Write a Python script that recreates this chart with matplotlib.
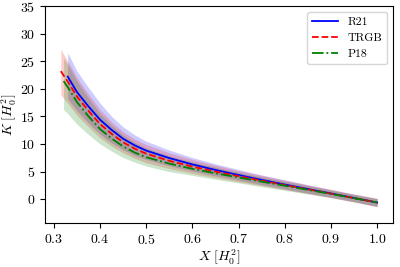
import numpy as np
import matplotlib
matplotlib.use("Agg")
import matplotlib.pyplot as plt

plt.rcParams["font.family"] = "serif"
plt.rcParams["font.serif"] = ["cmr10", "DejaVu Serif"]
plt.rcParams["mathtext.fontset"] = "cm"
plt.rcParams["axes.formatter.use_mathtext"] = True
plt.rcParams["axes.unicode_minus"] = False
plt.rcParams["font.size"] = 10

# R21
x_r21 = [0.33, 0.35, 0.375, 0.40, 0.425, 0.45, 0.475, 0.50, 0.55, 0.60, 0.65,
         0.70, 0.75, 0.80, 0.85, 0.90, 0.95, 1.00]
k_r21 = [22.2, 19.4, 16.8, 14.4, 12.55, 10.95, 9.75, 8.8, 7.45, 6.3, 5.3,
         4.38, 3.5, 2.66, 1.84, 1.04, 0.22, -0.6]
lo_r21 = [18.2, 16.0, 13.8, 11.8, 10.2, 8.95, 7.95, 7.2, 6.05, 5.1, 4.25,
          3.45, 2.65, 1.85, 1.1, 0.35, -0.45, -1.3]
hi_r21 = [26.5, 23.2, 20.2, 17.4, 15.0, 13.1, 11.65, 10.5, 8.9, 7.55, 6.4,
          5.38, 4.4, 3.51, 2.62, 1.76, 0.9, 0.1]

# TRGB
x_trgb = [0.315, 0.33, 0.35, 0.375, 0.40, 0.425, 0.45, 0.475, 0.50, 0.55, 0.60,
          0.65, 0.70, 0.75, 0.80, 0.85, 0.90, 0.95, 1.00]
k_trgb = [23.2, 21.3, 18.6, 16.0, 13.6, 11.85, 10.3, 9.15, 8.25, 6.95, 5.9,
          5.0, 4.16, 3.35, 2.56, 1.78, 1.01, 0.2, -0.6]
lo_trgb = [18.9, 17.4, 15.2, 13.1, 11.1, 9.6, 8.4, 7.4, 6.6, 5.55, 4.65,
           3.9, 3.15, 2.45, 1.75, 1.0, 0.28, -0.5, -1.4]
hi_trgb = [27.1, 25.0, 22.0, 19.0, 16.2, 14.0, 12.2, 10.9, 9.9, 8.4, 7.2,
           6.15, 5.2, 4.3, 3.45, 2.6, 1.78, 0.95, 0.2]

# P18
x_p18 = [0.321, 0.33, 0.35, 0.375, 0.40, 0.425, 0.45, 0.475, 0.50, 0.55, 0.60,
         0.65, 0.70, 0.75, 0.80, 0.85, 0.90, 0.95, 1.00]
k_p18 = [21.4, 20.3, 17.6, 15.0, 12.7, 11.0, 9.55, 8.45, 7.6, 6.45, 5.5,
         4.7, 3.93, 3.18, 2.44, 1.7, 0.96, 0.18, -0.6]
lo_p18 = [16.2, 15.5, 13.6, 11.7, 10.0, 8.7, 7.55, 6.7, 6.0, 5.0, 4.3,
          3.6, 2.95, 2.25, 1.6, 0.95, 0.28, -0.5, -1.3]
hi_p18 = [25.6, 24.4, 21.4, 18.3, 15.5, 13.4, 11.6, 10.3, 9.25, 7.85, 6.75,
          5.8, 4.9, 4.05, 3.25, 2.45, 1.64, 0.85, 0.1]

fig, ax = plt.subplots(figsize=(4, 2.67))
fig.subplots_adjust(left=0.1125, right=0.9825, top=0.9775, bottom=0.165)

ax.fill_between(x_r21, lo_r21, hi_r21, color="blue", alpha=0.2, lw=0)
ax.fill_between(x_trgb, lo_trgb, hi_trgb, color="red", alpha=0.2, lw=0)
ax.fill_between(x_p18, lo_p18, hi_p18, color="green", alpha=0.2, lw=0)

ax.plot(x_r21, k_r21, "b-", lw=1.3, label="R21")
ax.plot(x_trgb, k_trgb, "r--", lw=1.3, label="TRGB")
ax.plot(x_p18, k_p18, "g-.", lw=1.3, label="P18")

ax.set_ylim(-4.3, 35)
ax.set_xticks([0.3, 0.4, 0.5, 0.6, 0.7, 0.8, 0.9, 1.0])
ax.set_yticks([0, 5, 10, 15, 20, 25, 30, 35])
ax.set_xlabel(r"$X\ [H_0^2]$", labelpad=1)
ax.set_ylabel(r"$K\ [H_0^2]$", labelpad=1)
ax.legend(loc="upper right", fontsize=8.5, handlelength=2.2)

fig.savefig("out.png", dpi=100)
